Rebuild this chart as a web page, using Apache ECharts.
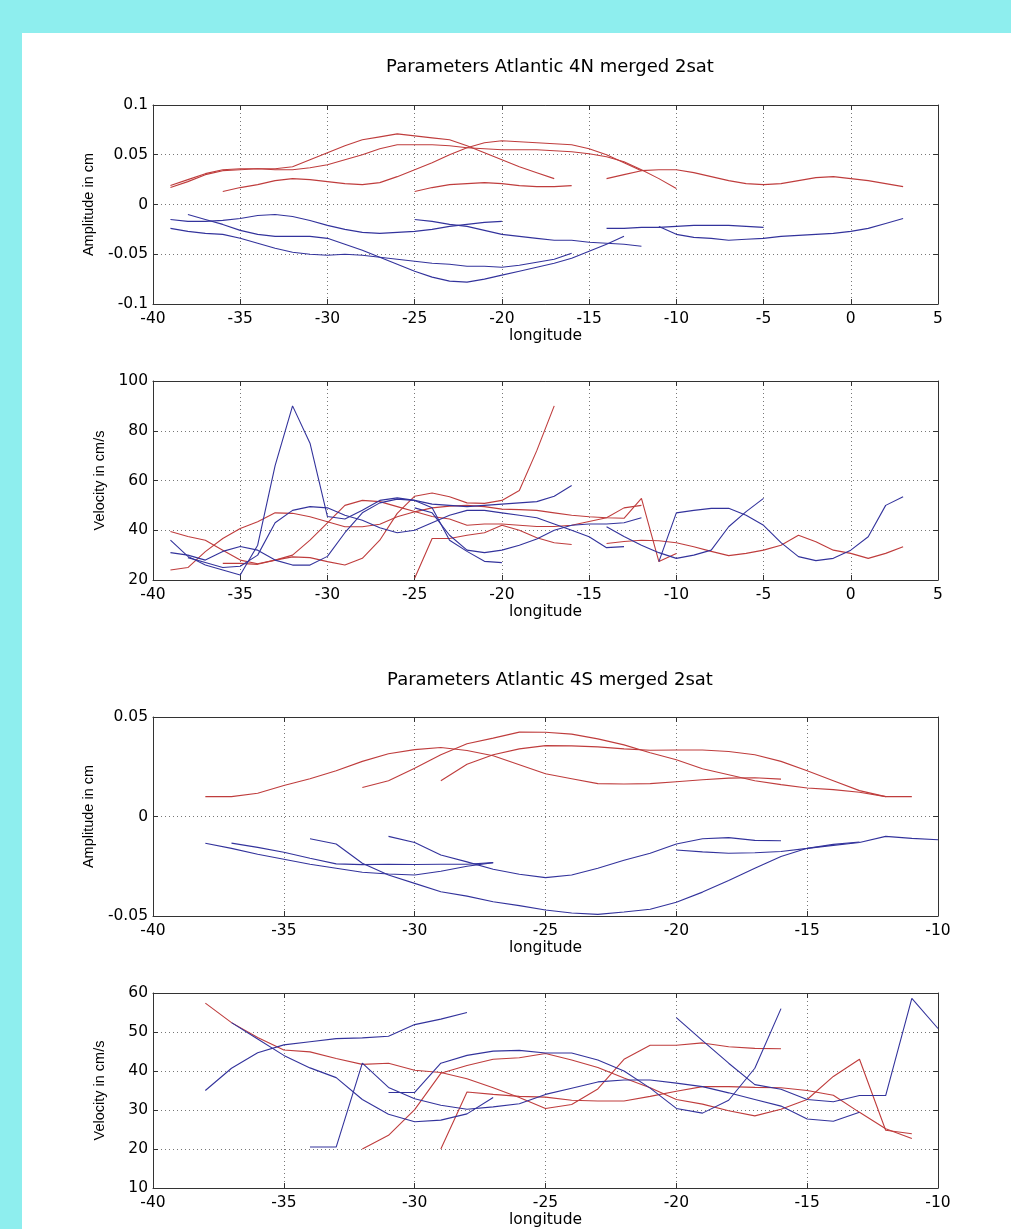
<!DOCTYPE html>
<html>
<head>
<meta charset="utf-8">
<script src="https://cdn.jsdelivr.net/npm/echarts@6/dist/echarts.min.js"></script>
<style>
  html, body { margin: 0; padding: 0; background: #8eeeee; }
  #chart { position: absolute; left: 22px; top: 33px; width: 989px; height: 1196px; background: #fff; }
</style>
</head>
<body>
<div id="chart"></div>
<script>
// ---- 4N amplitude (cm), one array per track, start longitude in *Start
var ampNRedStart = [-39, -39, -36, -25, -14];
var ampNRed = [
    [0.019, 0.025, 0.031, 0.035, 0.036, 0.036, 0.036, 0.038, 0.045, 0.052, 0.059, 0.065, 0.068, 0.071, 0.069, 0.067, 0.065, 0.059, 0.052, 0.045, 0.038, 0.032, 0.026],
    [0.017, 0.023, 0.030, 0.034, 0.035, 0.036, 0.035, 0.035, 0.037, 0.040, 0.045, 0.050, 0.056, 0.060, 0.060, 0.060, 0.059, 0.057, 0.056, 0.055, 0.055, 0.055, 0.054, 0.053, 0.051, 0.048, 0.043, 0.035, 0.026, 0.016],
    [0.013, 0.017, 0.020, 0.024, 0.026, 0.025, 0.023, 0.021, 0.020, 0.022, 0.028, 0.035, 0.042, 0.050, 0.057, 0.062, 0.064, 0.063, 0.062, 0.061, 0.060, 0.056, 0.050, 0.042, 0.034],
    [0.013, 0.017, 0.020, 0.021, 0.022, 0.021, 0.019, 0.018, 0.018, 0.019],
    [0.026, 0.030, 0.034, 0.035, 0.035, 0.032, 0.028, 0.024, 0.021, 0.020, 0.021, 0.024, 0.027, 0.028, 0.026, 0.024, 0.021, 0.018]
];
var ampNBlueStart = [-39, -38, -39, -25, -14, -11];
var ampNBlue = [
    [-0.015, -0.017, -0.017, -0.016, -0.014, -0.011, -0.010, -0.012, -0.016, -0.021, -0.025, -0.028, -0.029, -0.028, -0.027, -0.025, -0.022, -0.020, -0.018, -0.017],
    [-0.010, -0.015, -0.020, -0.026, -0.030, -0.032, -0.032, -0.032, -0.034, -0.040, -0.046, -0.053, -0.060, -0.067, -0.073, -0.077, -0.078, -0.075, -0.071, -0.067, -0.063, -0.059, -0.054, -0.047, -0.040, -0.032],
    [-0.024, -0.027, -0.029, -0.030, -0.034, -0.039, -0.044, -0.048, -0.050, -0.051, -0.050, -0.051, -0.053, -0.055, -0.057, -0.059, -0.060, -0.062, -0.062, -0.063, -0.061, -0.058, -0.055, -0.049],
    [-0.015, -0.017, -0.020, -0.022, -0.026, -0.030, -0.032, -0.034, -0.036, -0.036, -0.038, -0.039, -0.040, -0.042],
    [-0.024, -0.024, -0.023, -0.023, -0.022, -0.021, -0.021, -0.021, -0.022, -0.023],
    [-0.022, -0.030, -0.033, -0.034, -0.036, -0.035, -0.034, -0.032, -0.031, -0.030, -0.029, -0.027, -0.024, -0.019, -0.014]
];

// ---- 4N velocity (cm/s)
var velNRedStart = [-39, -39, -36, -25, -14];
var velNRed = [
    [39.5, 37.5, 36, 32, 28, 26.5, 28, 29.3, 29, 27.4, 26, 28.7, 36, 46.8, 53.7, 55, 53.5, 51, 50.8, 52, 56, 72, 90],
    [24, 25, 31.4, 36.7, 40.7, 43.4, 47, 46.8, 45.4, 43.4, 41.4, 41.4, 42.4, 45.4, 47.4, 49, 49.7, 50, 49.5, 48.5, 48.3, 48, 47, 46, 45.4, 45, 44.8, 52.8, 27.4, 30.7],
    [26.7, 26.7, 26.3, 28, 30, 36, 43, 50, 52, 51.5, 49.5, 47.5, 45.5, 44.5, 42, 42.5, 42.5, 42, 41.5, 41.5, 42, 43.5, 45, 49, 50],
    [20.7, 36.7, 36.7, 38, 39, 42, 40, 37, 35, 34.3],
    [34.7, 35.5, 36, 35.8, 35, 33.4, 31.5, 29.8, 30.7, 32, 34, 38, 35.4, 32, 30.7, 28.7, 30.7, 33.4]
];
var velNBlueStart = [-39, -38, -39, -25, -14, -11];
var velNBlue = [
    [36, 29.5, 26, 24, 22, 34, 66, 90, 75, 45.5, 44.5, 48, 52, 53, 52, 49, 36, 31.5, 27.5, 27],
    [29, 27, 25, 25.5, 30, 43, 48, 49.5, 49, 46, 44, 41, 39, 40, 43, 46, 48, 48, 47, 46, 45, 42.5, 40, 37.4, 33, 33.4],
    [31, 30, 28, 31.5, 33.5, 32, 28, 26, 26, 29.5, 39, 47, 51, 52.5, 52, 50.5, 50, 49.5, 50, 50.5, 51, 51.5, 53.7, 58],
    [49, 47, 38, 32, 31, 32, 34, 36.5, 40, 42, 42.5, 42.5, 43, 45],
    [41.4, 37.5, 34, 31, 28.7, 30, 32, 41.4, 47.5, 52.8],
    [27.4, 47, 48, 48.8, 48.8, 46, 42, 35, 29.4, 27.8, 28.7, 32, 37.4, 50, 53.5]
];

// ---- 4S amplitude (cm)
var ampSRedStart = [-38, -32, -29];
var ampSRed = [
    [0.010, 0.010, 0.0117, 0.0156, 0.019, 0.023, 0.0277, 0.0315, 0.0336, 0.0347, 0.0332, 0.0305, 0.026, 0.0215, 0.019, 0.0165, 0.0163, 0.0165, 0.0175, 0.0185, 0.0193, 0.0195, 0.0188],
    [0.0146, 0.018, 0.0243, 0.031, 0.0366, 0.0394, 0.0424, 0.0423, 0.0414, 0.039, 0.036, 0.032, 0.0285, 0.024, 0.021, 0.018, 0.016, 0.0143, 0.0135, 0.0122, 0.010, 0.010],
    [0.018, 0.0263, 0.031, 0.034, 0.0356, 0.0355, 0.035, 0.034, 0.0333, 0.0334, 0.0334, 0.0327, 0.031, 0.0277, 0.023, 0.018, 0.013, 0.010]
];
var ampSBlueStart = [-38, -37, -34, -31, -20];
var ampSBlue = [
    [-0.0134, -0.016, -0.019, -0.0215, -0.024, -0.026, -0.028, -0.0289, -0.0294, -0.0275, -0.025, -0.0232],
    [-0.0134, -0.0155, -0.018, -0.021, -0.0238, -0.0242, -0.0240, -0.0241, -0.0240, -0.0240, -0.0232],
    [-0.0112, -0.0138, -0.0235, -0.0294, -0.0336, -0.0378, -0.040, -0.0428, -0.0448, -0.047, -0.0485, -0.0492, -0.048, -0.0466, -0.0431, -0.038, -0.0322, -0.026, -0.0201, -0.016, -0.0145, -0.0131, -0.0100, -0.011, -0.0117],
    [-0.010, -0.0131, -0.0193, -0.0228, -0.0265, -0.029, -0.0307, -0.0294, -0.026, -0.022, -0.0185, -0.0138, -0.0112, -0.0106, -0.0120, -0.0122],
    [-0.0168, -0.0178, -0.0185, -0.0182, -0.0176, -0.016, -0.014, -0.0128]
];

// ---- 4S velocity (cm/s)
var velSRedStart = [-38, -32, -29];
var velSRed = [
    [57.4, 52.4, 48.6, 45.4, 44.9, 43.2, 41.7, 42, 40.2, 39.6, 38, 35.7, 33.2, 30.4, 31.4, 35.4, 43, 46.6, 46.6, 47.2, 46.2, 45.8, 45.7],
    [20, 23.5, 30.1, 39.4, 41.4, 43, 43.4, 44.5, 42.8, 40.9, 38.2, 35.7, 32.7, 31.5, 29.8, 28.5, 30.2, 32.7, 38.6, 43, 24.8, 23.9],
    [20, 34.6, 34, 33.5, 33.3, 32.5, 32.3, 32.3, 33.5, 34.8, 36, 36, 35.8, 35.7, 35, 33.8, 29.4, 25.2, 22.7]
];
var velSBlueStart = [-38, -37, -34, -31, -20];
var velSBlue = [
    [35, 40.7, 44.7, 46.7, 47.5, 48.3, 48.5, 48.9, 51.9, 53.3, 55],
    [52.4, 48.2, 44, 40.8, 38.3, 32.7, 28.9, 27, 27.4, 29, 33.2],
    [20.5, 20.5, 42, 35.8, 32.9, 31.2, 30.2, 30.8, 31.6, 34, 35.6, 37.2, 37.7, 37.7, 36.9, 36, 34.4, 32.7, 31, 27.7, 27.1, 29.4],
    [34.5, 34.5, 42, 44, 45.1, 45.3, 44.6, 44.6, 42.8, 40, 35.6, 30.4, 29.2, 32.5, 40.7, 56],
    [53.7, 47.8, 42, 36.5, 35.3, 32.7, 32.1, 33.7, 33.7, 58.6, 50.9]
];

var titles = ['Parameters Atlantic 4N merged 2sat', 'Parameters Atlantic 4S merged 2sat'];

var RED = '#bf3d3d';
var BLUE = '#33339c';
var FONT = 'DejaVu Sans, Verdana, sans-serif';
var YFONT = 'Liberation Sans, Arial, Helvetica, sans-serif';

// panel layout: grid top inside the chart div, axis ranges, y label
var panels = [
    {top: 72,  xmin: -40, xmax: 5,   ymin: -0.1,  ymax: 0.1,  yint: 0.05, yname: 'Amplitude in cm',  gap: 55, red: ampNRed, redStart: ampNRedStart, blue: ampNBlue, blueStart: ampNBlueStart},
    {top: 348, xmin: -40, xmax: 5,   ymin: 20,    ymax: 100,  yint: 20,   yname: 'Velocity in cm/s', gap: 46, red: velNRed, redStart: velNRedStart, blue: velNBlue, blueStart: velNBlueStart},
    {top: 684, xmin: -40, xmax: -10, ymin: -0.05, ymax: 0.05, yint: 0.05, yname: 'Amplitude in cm',  gap: 55, red: ampSRed, redStart: ampSRedStart, blue: ampSBlue, blueStart: ampSBlueStart},
    {top: 960, xmin: -40, xmax: -10, ymin: 10,    ymax: 60,   yint: 10,   yname: 'Velocity in cm/s', gap: 46, red: velSRed, redStart: velSRedStart, blue: velSBlue, blueStart: velSBlueStart}
];

function toPairs(start, vals) {
    var out = [];
    for (var i = 0; i < vals.length; i++) {
        out.push([start + i, vals[i]]);
    }
    return out;
}

var grids = [], xAxes = [], yAxes = [], series = [];
var lineCol = '#333';
var dotted = {type: [1, 3], color: '#777', width: 1};

panels.forEach(function (p, i) {
    grids.push({left: 131, top: p.top, width: 785, height: 199});

    // bottom / left axes carry labels and grid lines
    xAxes.push({
        type: 'value', gridIndex: i, min: p.xmin, max: p.xmax, interval: 5,
        name: 'longitude', nameLocation: 'middle', nameGap: 24,
        nameTextStyle: {color: '#000', fontSize: 15.5, fontFamily: FONT},
        axisLine: {show: true, onZero: false, lineStyle: {color: lineCol}},
        axisTick: {show: true, inside: true, length: 5, lineStyle: {color: lineCol}},
        axisLabel: {color: '#000', fontSize: 15.5, fontFamily: FONT, margin: 7},
        splitLine: {show: true, lineStyle: dotted}
    });
    // top axis: just the box edge and ticks
    xAxes.push({
        type: 'value', gridIndex: i, position: 'top', min: p.xmin, max: p.xmax, interval: 5,
        axisLine: {show: true, onZero: false, lineStyle: {color: lineCol}},
        axisTick: {show: true, inside: true, length: 5, lineStyle: {color: lineCol}},
        axisLabel: {show: false}, splitLine: {show: false}
    });
    yAxes.push({
        type: 'value', gridIndex: i, min: p.ymin, max: p.ymax, interval: p.yint,
        name: p.yname, nameLocation: 'middle', nameGap: p.gap, nameRotate: 90,
        nameTextStyle: {color: '#000', fontSize: 14.5, fontFamily: YFONT},
        axisLine: {show: true, onZero: false, lineStyle: {color: lineCol}},
        axisTick: {show: true, inside: true, length: 5, lineStyle: {color: lineCol}},
        axisLabel: {color: '#000', fontSize: 15.5, fontFamily: FONT, margin: 5},
        splitLine: {show: true, lineStyle: dotted}
    });
    yAxes.push({
        type: 'value', gridIndex: i, position: 'right', min: p.ymin, max: p.ymax, interval: p.yint,
        axisLine: {show: true, onZero: false, lineStyle: {color: lineCol}},
        axisTick: {show: true, inside: true, length: 5, lineStyle: {color: lineCol}},
        axisLabel: {show: false}, splitLine: {show: false}
    });

    p.red.forEach(function (vals, k) {
        series.push({
            type: 'line', xAxisIndex: 2 * i, yAxisIndex: 2 * i, showSymbol: false,
            data: toPairs(p.redStart[k], vals),
            lineStyle: {color: RED, width: 1.1}, silent: true
        });
    });
    p.blue.forEach(function (vals, k) {
        series.push({
            type: 'line', xAxisIndex: 2 * i, yAxisIndex: 2 * i, showSymbol: false,
            data: toPairs(p.blueStart[k], vals),
            lineStyle: {color: BLUE, width: 1.1}, silent: true
        });
    });
});

var myChart = echarts.init(document.getElementById('chart'));
var option = {
    animation: false,
    backgroundColor: '#fff',
    title: [
        {text: titles[0], left: 523, top: 20, textAlign: 'center',
         textStyle: {fontSize: 18, fontWeight: 'normal', color: '#000', fontFamily: FONT}},
        {text: titles[1], left: 523, top: 633, textAlign: 'center',
         textStyle: {fontSize: 18, fontWeight: 'normal', color: '#000', fontFamily: FONT}}
    ],
    grid: grids,
    xAxis: xAxes,
    yAxis: yAxes,
    series: series
};
myChart.setOption(option);
window.onresize = myChart.resize;
</script>
</body>
</html>
